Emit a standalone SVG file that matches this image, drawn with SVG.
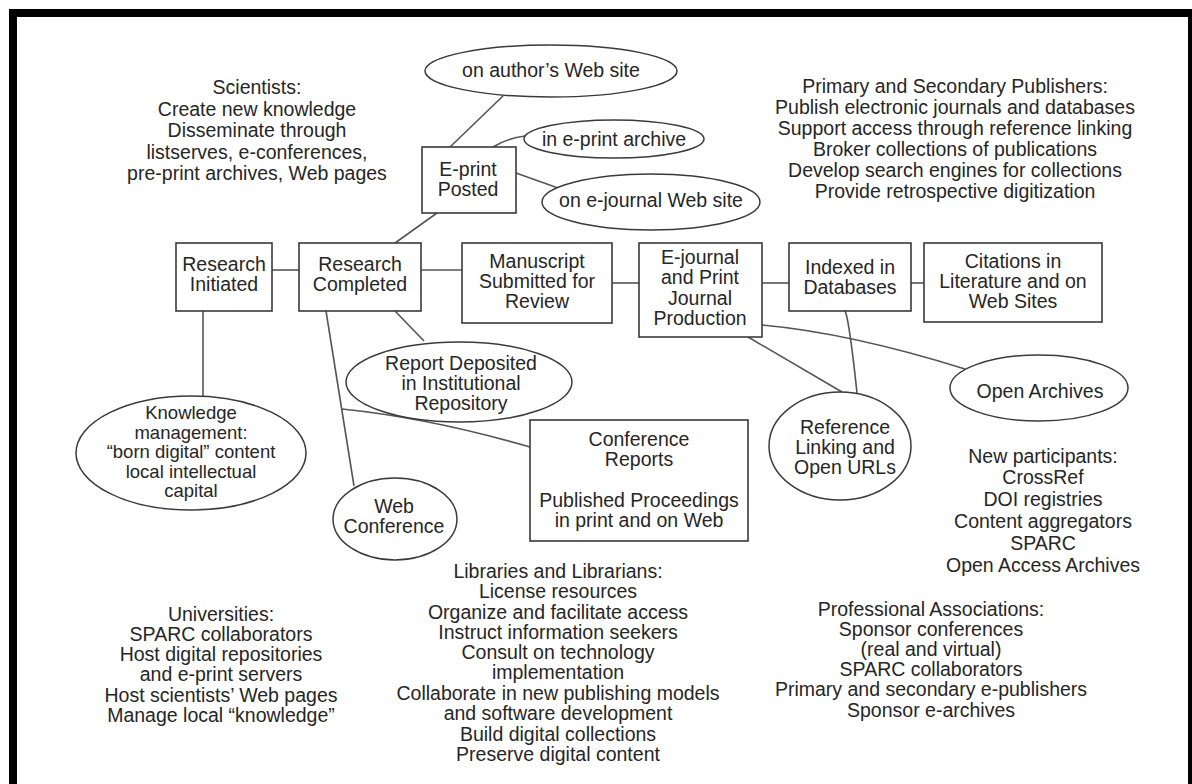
<svg xmlns="http://www.w3.org/2000/svg" width="1192" height="784" viewBox="0 0 1192 784">
  <style>
    text { font-family: "Liberation Sans", Arial, sans-serif; font-size: 19.5px; fill: #262626; text-anchor: middle; }
    .tight text { font-size: 18.5px; }
    .box { fill: #fff; stroke: #3a3a3a; stroke-width: 1.6; }
    .oval { fill: #fff; stroke: #3a3a3a; stroke-width: 1.5; }
    .link { fill: none; stroke: #555; stroke-width: 1.6; }
  </style>
  <rect x="0" y="0" width="1192" height="784" fill="#fff"/>
  <!-- outer frame -->
  <rect x="13" y="13" width="1179" height="800" fill="none" stroke="#000" stroke-width="8"/>

  <!-- connectors -->
  <g id="connectors">
    <line class="link" x1="272" y1="270" x2="299" y2="270"/>
    <line class="link" x1="421" y1="270" x2="462" y2="270"/>
    <line class="link" x1="612" y1="283" x2="639" y2="283"/>
    <line class="link" x1="762" y1="283" x2="789" y2="283"/>
    <line class="link" x1="911" y1="283" x2="924" y2="283"/>
    <line class="link" x1="203" y1="311" x2="203" y2="396"/>
    <line class="link" x1="395" y1="243" x2="437" y2="213"/>
    <line class="link" x1="450" y1="147" x2="503" y2="96"/>
    <path class="link" d="M493,147 Q508,138 525,136"/>
    <line class="link" x1="516" y1="173" x2="558" y2="188"/>
    <line class="link" x1="326" y1="311" x2="354" y2="486"/>
    <line class="link" x1="395" y1="311" x2="424" y2="341"/>
    <path class="link" d="M342,409 Q430,418 530,447"/>
    <path class="link" d="M845,311 Q849,318 857,393"/>
    <line class="link" x1="748" y1="337" x2="842" y2="392"/>
    <path class="link" d="M762,325 Q850,333 965,369"/>
  </g>

  <!-- free text blocks -->
  <g id="scientists">
    <text x="257" y="94">Scientists:</text>
    <text x="257" y="116">Create new knowledge</text>
    <text x="257" y="137">Disseminate through</text>
    <text x="257" y="159">listserves, e-conferences,</text>
    <text x="257" y="180">pre-print archives, Web pages</text>
  </g>
  <g id="publishers">
    <text x="955" y="93">Primary and Secondary Publishers:</text>
    <text x="955" y="114">Publish electronic journals and databases</text>
    <text x="955" y="135">Support access through reference linking</text>
    <text x="955" y="156">Broker collections of publications</text>
    <text x="955" y="177">Develop search engines for collections</text>
    <text x="955" y="198">Provide retrospective digitization</text>
  </g>
  <g id="new-participants">
    <text x="1043" y="463">New participants:</text>
    <text x="1043" y="484">CrossRef</text>
    <text x="1043" y="506">DOI registries</text>
    <text x="1043" y="528">Content aggregators</text>
    <text x="1043" y="550">SPARC</text>
    <text x="1043" y="572">Open Access Archives</text>
  </g>
  <g id="professional-associations">
    <text x="931" y="616">Professional Associations:</text>
    <text x="931" y="636">Sponsor conferences</text>
    <text x="931" y="656">(real and virtual)</text>
    <text x="931" y="676">SPARC collaborators</text>
    <text x="931" y="696">Primary and secondary e-publishers</text>
    <text x="931" y="717">Sponsor e-archives</text>
  </g>
  <g id="libraries">
    <text x="558" y="578">Libraries and Librarians:</text>
    <text x="558" y="598">License resources</text>
    <text x="558" y="619">Organize and facilitate access</text>
    <text x="558" y="639">Instruct information seekers</text>
    <text x="558" y="659">Consult on technology</text>
    <text x="558" y="679">implementation</text>
    <text x="558" y="700">Collaborate in new publishing models</text>
    <text x="558" y="720">and software development</text>
    <text x="558" y="741">Build digital collections</text>
    <text x="558" y="761">Preserve digital content</text>
  </g>
  <g id="universities">
    <text x="221" y="621">Universities:</text>
    <text x="221" y="641">SPARC collaborators</text>
    <text x="221" y="661">Host digital repositories</text>
    <text x="221" y="681">and e-print servers</text>
    <text x="221" y="702">Host scientists’ Web pages</text>
    <text x="221" y="722">Manage local “knowledge”</text>
  </g>

  <!-- process boxes -->
  <g id="research-initiated">
    <rect class="box" x="176" y="243" width="96" height="68"/>
    <text x="224" y="271">Research</text>
    <text x="224" y="291">Initiated</text>
  </g>
  <g id="research-completed">
    <rect class="box" x="299" y="243" width="122" height="68"/>
    <text x="360" y="271">Research</text>
    <text x="360" y="291">Completed</text>
  </g>
  <g id="manuscript">
    <rect class="box" x="462" y="243" width="150" height="80"/>
    <text x="537" y="268">Manuscript</text>
    <text x="537" y="288">Submitted for</text>
    <text x="537" y="308">Review</text>
  </g>
  <g id="ejournal">
    <rect class="box" x="639" y="243" width="123" height="94"/>
    <text x="700" y="264">E-journal</text>
    <text x="700" y="284">and Print</text>
    <text x="700" y="305">Journal</text>
    <text x="700" y="325">Production</text>
  </g>
  <g id="indexed">
    <rect class="box" x="789" y="243" width="122" height="68"/>
    <text x="850" y="274">Indexed in</text>
    <text x="850" y="294">Databases</text>
  </g>
  <g id="citations">
    <rect class="box" x="924" y="243" width="178" height="79"/>
    <text x="1013" y="268">Citations in</text>
    <text x="1013" y="288">Literature and on</text>
    <text x="1013" y="308">Web Sites</text>
  </g>
  <g id="eprint">
    <rect class="box" x="422" y="147" width="94" height="66"/>
    <text x="468" y="176">E-print</text>
    <text x="468" y="196">Posted</text>
  </g>
  <g id="conference-reports">
    <rect class="box" x="530" y="420" width="218" height="121"/>
    <text x="639" y="446">Conference</text>
    <text x="639" y="466">Reports</text>
    <text x="639" y="507">Published Proceedings</text>
    <text x="639" y="527">in print and on Web</text>
  </g>

  <!-- outlet ellipses -->
  <g id="author-site">
    <ellipse class="oval" cx="551" cy="71" rx="126" ry="26"/>
    <text x="551" y="77">on author’s Web site</text>
  </g>
  <g id="eprint-archive">
    <ellipse class="oval" cx="614" cy="139" rx="90" ry="19"/>
    <text x="614" y="146">in e-print archive</text>
  </g>
  <g id="ejournal-site">
    <ellipse class="oval" cx="651" cy="202" rx="109" ry="28"/>
    <text x="651" y="207">on e-journal Web site</text>
  </g>
  <g id="report-deposited">
    <ellipse class="oval" cx="459" cy="382" rx="113" ry="40"/>
    <text x="461" y="370">Report Deposited</text>
    <text x="461" y="390">in Institutional</text>
    <text x="461" y="410">Repository</text>
  </g>
  <g id="knowledge-management" class="tight">
    <ellipse class="oval" cx="191" cy="453" rx="115" ry="57"/>
    <text x="191" y="419">Knowledge</text>
    <text x="191" y="438.5">management:</text>
    <text x="191" y="458">“born digital” content</text>
    <text x="191" y="477.5">local intellectual</text>
    <text x="191" y="497">capital</text>
  </g>
  <g id="web-conference">
    <ellipse class="oval" cx="395" cy="519" rx="62" ry="41"/>
    <text x="394" y="513">Web</text>
    <text x="394" y="533">Conference</text>
  </g>
  <g id="reference-linking">
    <ellipse class="oval" cx="840" cy="446" rx="71" ry="54"/>
    <text x="845" y="434">Reference</text>
    <text x="845" y="454">Linking and</text>
    <text x="845" y="474">Open URLs</text>
  </g>
  <g id="open-archives">
    <ellipse class="oval" cx="1039" cy="388" rx="89" ry="33"/>
    <text x="1040" y="398">Open Archives</text>
  </g>
</svg>
